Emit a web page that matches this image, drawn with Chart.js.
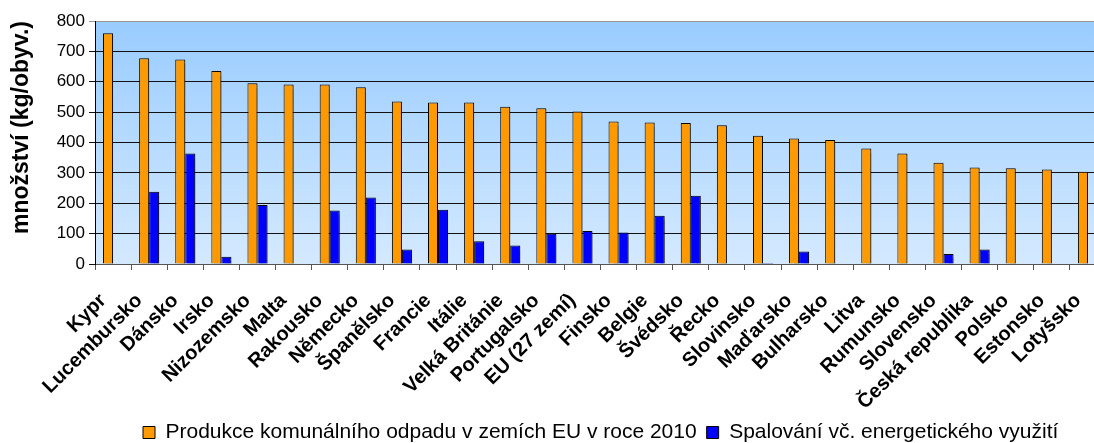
<!DOCTYPE html>
<html>
<head>
<meta charset="utf-8">
<script src="https://cdn.jsdelivr.net/npm/chart.js@4"></script>
<style>
  html, body { margin: 0; padding: 0; overflow: hidden; background: #fff; }
  #wrap { width: 1106px; height: 443px; }
</style>
</head>
<body>
<div id="wrap"><canvas id="chart"></canvas></div>
<script>
// data
const zeme = ["Kypr", "Lucembursko", "Dánsko", "Irsko", "Nizozemsko", "Malta", "Rakousko", "Německo",
  "Španělsko", "Francie", "Itálie", "Velká Británie", "Portugalsko", "EU (27 zemí)", "Finsko", "Belgie",
  "Švédsko", "Řecko", "Slovinsko", "Maďarsko", "Bulharsko", "Litva", "Rumunsko", "Slovensko",
  "Česká republika", "Polsko", "Estonsko", "Lotyšsko"];
const produkce = [760, 677, 673, 635, 595, 591, 591, 582, 535, 532, 532, 518, 513, 502, 469, 466,
  464, 457, 422, 413, 408, 380, 364, 333, 318, 315, 311, 304];
const spalovani = [0, 238, 364, 24, 194, 0, 176, 219, 48, 179, 75, 61, 100, 109, 104, 159,
  225, 0, 3, 41, 0, 0, 0, 33, 48, 2, 0, 0];
const yTicks = [0, 100, 200, 300, 400, 500, 600, 700, 800];

const FONT = "'Liberation Sans', Arial, sans-serif";

// pozadi plochy grafu - prechod
const pozadi = {
  id: 'pozadi',
  beforeDraw(chart) {
    const a = chart.chartArea, ctx = chart.ctx;
    const g = ctx.createLinearGradient(0, a.top, 0, a.bottom);
    g.addColorStop(0, 'rgb(153,204,255)');
    g.addColorStop(1, 'rgb(212,233,255)');
    ctx.save();
    ctx.fillStyle = g;
    ctx.fillRect(a.left, a.top, a.right - a.left, a.bottom - a.top);
    ctx.restore();
  }
};

// stin pod sloupci
const stin = {
  id: 'stin',
  beforeDatasetsDraw(chart) {
    const ctx = chart.ctx;
    ctx.save();
    ctx.shadowColor = 'rgba(0,0,0,0.35)';
    ctx.shadowOffsetX = 2;
    ctx.shadowOffsetY = 1;
    ctx.shadowBlur = 1;
  },
  afterDatasetsDraw(chart) {
    chart.ctx.restore();
  }
};

// posun legendy + popisky osy x az dolu (aby se neorezavaly)
const posunLegendy = {
  id: 'posunLegendy',
  afterLayout(chart) {
    const l = chart.legend;
    const h = l.bottom - l.top;
    l.left += 133; l.right += 133;
    l.top = 412; l.bottom = 412 + h;
    chart.scales.x.bottom = chart.height;
  }
};

new Chart(document.getElementById('chart'), {
  type: 'bar',
  data: {
    labels: zeme,
    datasets: [{
      label: 'Produkce komunálního odpadu v zemích EU v roce 2010',
      data: produkce,
      backgroundColor: '#FF9900',
      borderColor: '#000',
      borderWidth: 1
    }, {
      label: 'Spalování vč. energetického využití',
      data: spalovani,
      backgroundColor: '#0000FF',
      borderColor: '#000',
      borderWidth: 1
    }]
  },
  options: {
    responsive: true,
    maintainAspectRatio: false,
    animation: false,
    layout: { padding: { top: 21, right: 0, left: 0, bottom: 0 } },
    datasets: { bar: { categoryPercentage: 0.555, barPercentage: 1 } },
    plugins: {
      tooltip: { enabled: false },
      legend: {
        position: 'bottom',
        align: 'start',
        labels: {
          boxWidth: 12, boxHeight: 12, padding: 10,
          color: '#000',
          font: { family: FONT, size: 21 }
        }
      }
    },
    scales: {
      x: {
        offset: true,
        grid: { offset: true, drawOnChartArea: false, drawTicks: true, tickLength: 6, color: '#555' },
        border: { color: '#555' },
        ticks: {
          minRotation: 45, maxRotation: 45, autoSkip: false, padding: 19, labelOffset: -10,
          color: '#000',
          font: { family: FONT, size: 20, weight: 'bold' }
        },
        afterFit(s) {
          s.height = s.chart.height - 264 - s.chart.legend.height;
          s.paddingLeft = 0;
          s.paddingRight = 0;
        }
      },
      y: {
        min: 0, max: 800,
        afterBuildTicks(s) { s.ticks = yTicks.map(v => ({ value: v })); },
        grid: {
          color: ctx => ctx.tick && ctx.tick.value === 800 ? '#999' : '#111',
          tickLength: 6
        },
        border: { color: '#000' },
        ticks: {
          padding: 4, color: '#000',
          font: { family: FONT, size: 17 }
        },
        title: {
          display: true,
          text: 'množství (kg/obyv.)',
          align: 'end',
          color: '#000',
          padding: { top: 8, bottom: 0 },
          font: { family: FONT, size: 23, weight: 'bold' }
        },
        afterFit(s) { s.width = 95; }
      }
    }
  },
  plugins: [pozadi, stin, posunLegendy]
});
</script>
</body>
</html>
